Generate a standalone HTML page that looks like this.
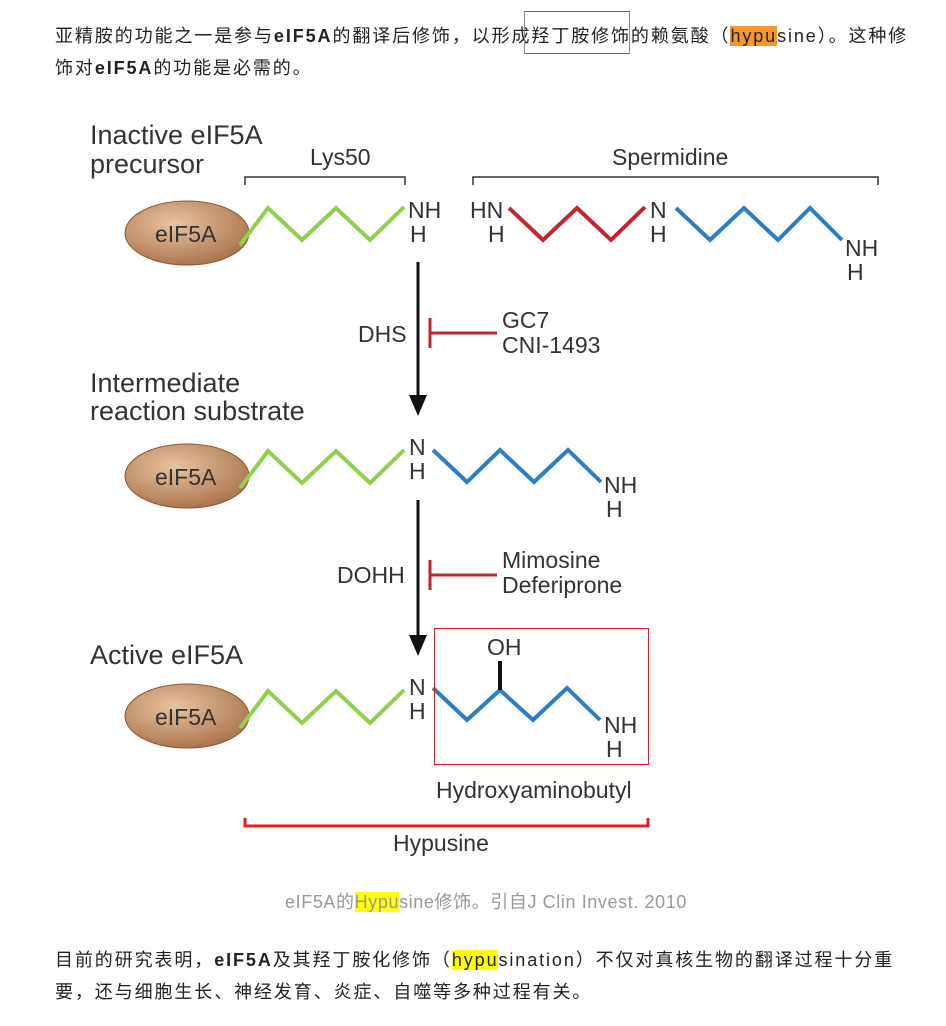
<!DOCTYPE html>
<html><head><meta charset="utf-8"><style>
html,body{margin:0;padding:0;background:#fff;width:946px;height:1026px;overflow:hidden;position:relative}
.t{position:absolute;left:55px;font-family:"Liberation Sans","Noto Sans CJK SC",sans-serif;font-size:18px;color:#222;white-space:nowrap;letter-spacing:1.9px}
.o{background:#f7962f}
.y{background:#ffff00}
b{font-weight:bold}
</style></head><body>
<div class="t" style="top:22px">亚精胺的功能之一是参与<b>eIF5A</b>的翻译后修饰，以形成羟丁胺修饰的赖氨酸（<span class="o">hypu</span>sine）。这种修</div>
<div class="t" style="top:54px">饰对<b>eIF5A</b>的功能是必需的。</div>
<div style="position:absolute;left:524px;top:11px;width:104px;height:41px;border:1px solid #888;border-top-color:#e33;border-bottom-color:#e33"></div>
<svg style="position:absolute;left:0;top:0" width="946" height="1026" font-family="Liberation Sans, sans-serif" fill="#333">
<defs><radialGradient id="g" cx="0.4" cy="0.35" r="0.7"><stop offset="0" stop-color="#e8c4a0"/><stop offset="1" stop-color="#a9724a"/></radialGradient></defs>
<g font-size="27">
<text x="90" y="144">Inactive eIF5A</text><text x="90" y="173">precursor</text>
<text x="90" y="392">Intermediate</text><text x="90" y="420">reaction substrate</text>
<text x="90" y="664">Active eIF5A</text>
</g>
<g font-size="23">
<text x="310" y="165">Lys50</text><text x="612" y="165">Spermidine</text>
</g>
<g stroke="#333" stroke-width="1.5" fill="none">
<path d="M245 185V177H405V185M473 185V177H878V185"/>
</g>
<g fill="url(#g)" stroke="#8a5a3a" stroke-width="1">
<ellipse cx="187" cy="233" rx="62" ry="32"/><ellipse cx="187" cy="476" rx="62" ry="32"/><ellipse cx="187" cy="716" rx="62" ry="32"/>
</g>
<g font-size="23" fill="#333"><text x="155" y="242">eIF5A</text><text x="155" y="485">eIF5A</text><text x="155" y="725">eIF5A</text></g>
<g fill="none" stroke-width="4" stroke-linejoin="miter">
<path stroke="#8fd14f" d="M240 245L268 208L302 240L336 208L370 240L404 207"/>
<path stroke="#8fd14f" d="M240 488L268 451L302 483L336 451L370 483L404 450"/>
<path stroke="#8fd14f" d="M240 728L268 691L302 723L336 691L370 723L404 690"/>
<path stroke="#c0272d" d="M509 208L543 240L577 208L611 240L645 207"/>
<path stroke="#2a7fc4" d="M676 208L710 240L744 208L778 240L810 208L842 240"/>
<path stroke="#2a7fc4" d="M433 450L467 482L500 450L534 482L568 450L601 482"/>
<path stroke="#2a7fc4" d="M433 688L467 720L500 690L533 720L567 688L600 720"/>
<path stroke="#111" d="M500 690V661"/>
</g>
<g font-size="23" fill="#333">
<text x="408" y="218">NH</text><text x="410" y="242">H</text>
<text x="470" y="218">HN</text><text x="488" y="242">H</text>
<text x="650" y="218">N</text><text x="650" y="242">H</text>
<text x="845" y="256">NH</text><text x="847" y="280">H</text>
<text x="409" y="455">N</text><text x="409" y="479">H</text>
<text x="604" y="493">NH</text><text x="606" y="517">H</text>
<text x="409" y="695">N</text><text x="409" y="719">H</text>
<text x="487" y="655">OH</text>
<text x="604" y="733">NH</text><text x="606" y="757">H</text>
<text x="358" y="342">DHS</text><text x="337" y="583">DOHH</text>
<text x="502" y="328">GC7</text><text x="502" y="353">CNI-1493</text>
<text x="502" y="568">Mimosine</text><text x="502" y="593">Deferiprone</text>
<text x="436" y="798">Hydroxyaminobutyl</text>
<text x="393" y="851">Hypusine</text>
</g>
<g stroke="#111" stroke-width="3"><path d="M418 262V400M418 500V640"/></g>
<g fill="#111"><path d="M409 395L427 395L418 416Z"/><path d="M409 635L427 635L418 656Z"/></g>
<g stroke="#c0272d" stroke-width="3" fill="none">
<path d="M430 318V348M430 333H497M430 560V590M430 575H497"/>
</g>
<path d="M245 818V826H648V818" stroke="#e02020" stroke-width="3" fill="none"/>
<rect x="434.5" y="628.5" width="214" height="136" fill="none" stroke="#e02020" stroke-width="1"/>
</svg>
<div class="t" style="top:888px;left:0;width:972px;text-align:center;color:#999;font-size:18px;letter-spacing:0.6px">eIF5A的<span class="y">Hypu</span>sine修饰。引自J Clin Invest. 2010</div>
<div class="t" style="top:946px">目前的研究表明，<b>eIF5A</b>及其羟丁胺化修饰（<span class="y">hypu</span>sination）不仅对真核生物的翻译过程十分重</div>
<div class="t" style="top:978px">要，还与细胞生长、神经发育、炎症、自噬等多种过程有关。</div>
</body></html>
